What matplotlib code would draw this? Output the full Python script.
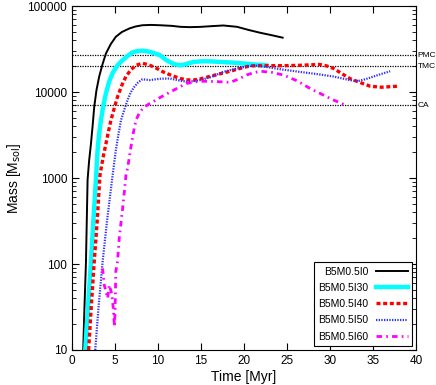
import numpy as np
import matplotlib
matplotlib.use("Agg")
import matplotlib.pyplot as plt
from matplotlib import ticker

plt.rcParams['font.family'] = ['Liberation Sans', 'DejaVu Sans']

# B5M0.5I0
t_i0 = [1.31, 1.45, 1.63, 1.82, 2.0, 2.21, 2.4, 2.59, 2.85, 3.17, 3.55, 3.95, 4.5, 5.1, 5.8, 6.67, 7.4, 8.2, 9.2, 10.2, 11.6,
        12.6, 13.7, 14.9, 16.2, 17.6, 19.2, 20.5, 21.9, 23.2, 24.5]
m_i0 = [10, 30, 105, 960, 1600, 2500, 4000, 6700, 10500, 15200, 21000, 28100, 36000, 44000, 50000, 55000, 58000, 60000, 60500, 60000, 59000,
        57500, 57000, 57400, 58500, 59600, 57500, 53000, 49000, 46000, 43000]

# B5M0.5I30
t_i30 = [1.55, 1.85, 2.21, 2.5, 2.79, 2.98, 3.15, 3.37, 3.65, 3.95, 4.3, 4.73, 5.3, 5.9, 6.5, 7.05, 7.6, 8.2, 9.07, 10.2, 11.0,
         11.8, 12.6, 13.3, 14.1, 15.0, 16.0, 17.4, 18.8, 20.0, 21.1, 22.6]
m_i30 = [10, 30, 105, 330, 960, 2100, 3200, 4700, 7000, 9600, 13000, 16700, 20500, 23600, 26500, 29000, 30000, 30400, 29400, 27000, 23500,
         21300, 20500, 21200, 22400, 22800, 22800, 22400, 22000, 21500, 21000, 20500]

# B5M0.5I40
t_i40 = [1.94, 2.25, 2.59, 2.95, 3.26, 3.6, 3.95, 4.25, 4.53, 4.9, 5.3, 5.8, 6.28, 6.85, 7.44, 8.2, 9.07, 9.8, 10.6, 11.6, 12.6,
         13.3, 14.1, 15.0, 16.0, 17.2, 18.4, 19.5, 20.7, 22.5, 24.6, 26.5, 28.8, 29.6, 30.4, 31.3, 32.3, 33.1, 34.0, 34.7, 36.0, 37.8]
m_i40 = [10, 32, 105, 330, 1080, 1700, 2500, 3500, 4700, 6400, 8800, 12000, 15200, 18200, 20500, 21700, 20500, 19000, 17200, 15600, 14400,
         13900, 13800, 14300, 15200, 16300, 17500, 18800, 20200, 20300, 20300, 20500, 21000, 20200, 18900, 16600, 14400, 13400, 12400, 11700, 11400, 11700]

# B5M0.5I50
t_i50 = [2.71, 3.1, 3.56, 4.1, 4.73, 5.1, 5.4, 5.7, 6.1, 6.47, 6.85, 7.25, 7.7, 8.2, 9.07, 10.2, 11.4, 12.4, 13.3, 14.1, 14.9,
         16.2, 17.6, 19.2, 20.7, 21.6, 22.6, 24.5, 26.5, 28.5, 30.4, 32.3, 33.2, 34.2, 35.5, 37.0]
m_i50 = [10, 32, 105, 330, 1080, 2100, 3200, 4700, 6300, 8100, 10000, 11500, 13000, 14100, 13800, 14300, 14400, 13700, 13200, 13400, 13800,
         15000, 17200, 18800, 20200, 20300, 19600, 18300, 17200, 16200, 15200, 13800, 13400, 14200, 15700, 17500]

# B5M0.5I60
t_i60 = [3.56, 3.76, 3.95, 4.15, 4.34, 4.5, 4.65, 4.8, 4.95, 5.02, 5.1, 5.3, 5.5, 5.7, 5.9, 6.1, 6.28, 6.47, 6.86, 7.15, 7.44,
         7.9, 8.4, 9.07, 9.4, 10.2, 11.4, 12.4, 13.3, 14.9, 16.5, 18.4, 19.4, 20.3, 21.1, 21.9, 23.2, 24.6, 26.2, 27.7, 29.0, 30.4, 31.2, 31.9]
m_i60 = [89, 57, 48, 40, 57, 50, 44, 31, 18.6, 30, 82, 107, 200, 300, 450, 700, 1080, 1300, 2300, 3400, 4700,
         5900, 6700, 7400, 7700, 8600, 10000, 11300, 12600, 13400, 13300, 13000, 14200, 15800, 16800, 17500, 17000, 15800, 13500, 11000, 9500, 8100, 7500, 7000]

ref_names = ['PMC', 'TMC', 'CA']
ref_masses = [27000, 20000, 7000]

fig = plt.figure(figsize=(4.36, 3.85), dpi=100)
ax = fig.add_axes([0.165, 0.091, 0.789, 0.893])

for name, m in zip(ref_names, ref_masses):
    ax.axhline(m, color='black', linestyle=(0, (1, 1)), linewidth=0.9, zorder=1)
    ax.text(1.005, m, name, transform=ax.get_yaxis_transform(), fontsize=6,
            va='center', ha='left')

ax.plot(t_i0, m_i0, color='black', linewidth=1.4, label='B5M0.5I0')
ax.plot(t_i30, m_i30, color='cyan', linewidth=3.2, label='B5M0.5I30')
ax.plot(t_i40, m_i40, color='red', linewidth=2.4, linestyle=(0, (1.2, 0.8)), label='B5M0.5I40')
ax.plot(t_i50, m_i50, color='#3030ff', linewidth=1.6, linestyle=(0, (0.6, 0.6)), label='B5M0.5I50')
ax.plot(t_i60, m_i60, color='magenta', linewidth=2.0, linestyle=(0, (2, 1.5, 0.6, 1.5)), label='B5M0.5I60')

ax.set_yscale('log')
ax.set_xlim(0, 40)
ax.set_ylim(10, 100000)
ax.set_xticks(np.arange(0, 41, 5))
ax.yaxis.set_major_formatter(ticker.FuncFormatter(lambda v, p: f'{v:.0f}'))
ax.tick_params(which='both', direction='in', top=True, right=True, labelsize=8.5)
ax.tick_params(which='major', length=5)
ax.tick_params(which='minor', length=3)

ax.set_xlabel('Time [Myr]', fontsize=10, labelpad=2)
ax.set_ylabel('Mass [M$_{\\rm sol}$]', fontsize=10, labelpad=3)

leg = ax.legend(loc='lower right', fontsize=7.5, markerfirst=False, fancybox=False,
                edgecolor='black', framealpha=1, handlelength=3, borderaxespad=0.4,
                labelspacing=0.6)
leg.get_frame().set_linewidth(0.8)

fig.savefig('out.png', dpi=100)
